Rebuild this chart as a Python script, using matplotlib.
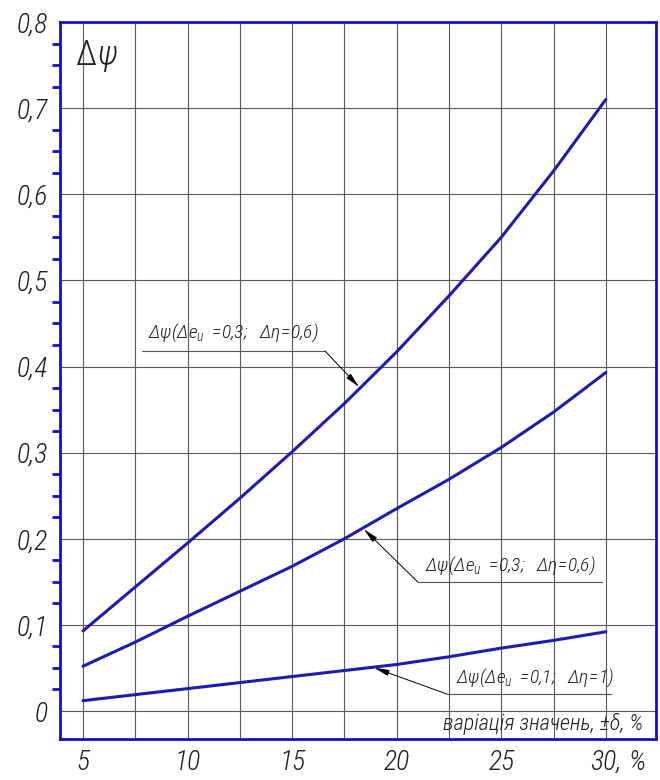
import matplotlib
matplotlib.use("Agg")
import matplotlib.pyplot as plt
from matplotlib import font_manager as fm
import numpy as np

# ---------------- data ----------------
x_vals = [5, 7.5, 10, 12.5, 15, 17.5, 20, 22.5, 25, 27.5, 30]
upper = [0.093, 0.144, 0.195, 0.247, 0.301, 0.357, 0.417, 0.482, 0.550, 0.627, 0.710]
middle = [0.052, 0.080, 0.110, 0.139, 0.168, 0.200, 0.235, 0.269, 0.306, 0.347, 0.393]
lower = [0.012, 0.019, 0.026, 0.033, 0.040, 0.047, 0.054, 0.063, 0.073, 0.082, 0.092]

x_ticks = [5, 10, 15, 20, 25, 30]
x_ticklabels = ["5", "10", "15", "20", "25", "30,"]
y_ticks = [0, 0.1, 0.2, 0.3, 0.4, 0.5, 0.6, 0.7, 0.8]
y_ticklabels = ["0", "0,1", "0,2", "0,3", "0,4", "0,5", "0,6", "0,7", "0,8"]

label_upper = r"$\Delta\psi(\Delta e_u\ =\!0{,}3;\ \ \Delta\eta\!=\!0{,}6)$"
label_middle = r"$\Delta\psi(\Delta e_u\ =\!0{,}3;\ \ \Delta\eta\!=\!0{,}6)$"
label_lower = r"$\Delta\psi(\Delta e_u\ =\!0{,}1;\ \ \Delta\eta\!=\!1)$"
x_axis_title = "варіація значень, ±δ, %"
y_axis_title_a = "Δ"
y_axis_title_b = "ψ"

# ---------------- font choice ----------------
def wnum(w):
    if isinstance(w, (int, float)):
        return w
    return {"ultralight": 200, "light": 300, "normal": 400, "regular": 400,
            "book": 400, "medium": 500}.get(str(w), 400)

def pick_font(style_ok):
    entries = fm.fontManager.ttflist
    prefs = ["Liberation Sans Narrow", "Roboto Condensed", "Open Sans Condensed",
             "Noto Sans", "DejaVu Sans", "Roboto", "Liberation Sans"]
    for name in prefs:
        c = [e for e in entries if e.name == name and style_ok(e.style) and e.stretch != "normal"
             and 250 <= wnum(e.weight) <= 400]
        if c:
            c.sort(key=lambda e: abs(wnum(e.weight) - 300))
            return c[0]
    return None

ent = pick_font(lambda s: s in ("italic", "oblique"))
if ent is not None:
    ITF = fm.FontProperties(fname=ent.fname)
    fam = ent.name
    stretch = ent.stretch
    wt = wnum(ent.weight)
else:
    ITF = fm.FontProperties(family="DejaVu Sans", style="italic")
    fam = "DejaVu Sans"
    stretch = "normal"
    wt = 400

def upright():
    for e in fm.fontManager.ttflist:
        if e.name == fam and e.style == "normal" and e.stretch == stretch and wnum(e.weight) == wt:
            return fm.FontProperties(fname=e.fname)
    return fm.FontProperties(family=fam)

UPF = upright()

plt.rcParams["mathtext.fontset"] = "custom"
pat = f"{fam}:italic:weight={wt}" + (f":stretch={stretch}" if stretch != "normal" else "")
plt.rcParams["mathtext.it"] = pat
plt.rcParams["mathtext.rm"] = pat
plt.rcParams["mathtext.sf"] = pat

# ---------------- figure ----------------
W, H = 660, 780
fig = plt.figure(figsize=(W / 100, H / 100), dpi=100)
ax = fig.add_axes([60 / W, 41 / H, 596 / W, 717 / H])

frame_col = "#1212c8"
line_col = "#1c1cb0"
grid_col = "#5a5a5a"
text_col = "#1e1e1e"

ax.set_xlim(3.9, 32.4)
ax.set_ylim(-0.0325, 0.8)

for series in (upper, middle, lower):
    ax.plot(x_vals, series, color=line_col, lw=2.2, solid_capstyle="round", solid_joinstyle="round")

for s in ax.spines.values():
    s.set_color(frame_col)
    s.set_linewidth(2.0)

ax.set_xticks(x_ticks)
ax.set_xticklabels(x_ticklabels, fontproperties=ITF, fontsize=20, color=text_col)
ax.set_xticks(np.arange(7.5, 30, 5), minor=True)
ax.set_yticks(y_ticks)
ax.set_yticklabels(y_ticklabels, fontproperties=ITF, fontsize=20, color=text_col)
minor_y = [k * 0.025 for k in range(1, 32) if k % 4 != 0]
ax.set_yticks(minor_y, minor=True)

ax.tick_params(axis="x", which="both", length=0, pad=7)
ax.tick_params(axis="y", which="major", length=0, pad=9)
ax.tick_params(axis="y", which="minor", length=6, width=2.0, color=frame_col, direction="out")

ax.grid(True, which="major", axis="y", color=grid_col, lw=0.8)
ax.grid(True, which="both", axis="x", color=grid_col, lw=0.8)
ax.set_axisbelow(True)

ax.annotate("%", xy=(31.5, 0), xycoords=("data", "axes fraction"),
            xytext=(0, -7), textcoords="offset points", ha="center", va="top",
            fontproperties=ITF, fontsize=20, color=text_col)

ax.text(4.6, 0.750, y_axis_title_a, fontproperties=UPF, fontsize=25, ha="left", va="baseline", color=text_col)
ax.text(5.7, 0.750, y_axis_title_b, fontproperties=ITF, fontsize=25, ha="left", va="baseline", color=text_col)

ax.text(22.2, -0.022, x_axis_title, fontproperties=ITF, fontsize=16, ha="left", va="baseline", color=text_col)

lead_col = "#555555"
annots = [
    (label_upper, (8.1, 0.433), (7.82, 16.57, 0.418), 16.57, 18.25, upper),
    (label_middle, (21.35, 0.1626), (21.01, 29.81, 0.1498), 21.01, 18.38, middle),
    (label_lower, (22.85, 0.0325), (22.40, 30.24, 0.0197), 22.40, 18.86, lower),
]
for text, tpos, (ux0, ux1, uy), cx, tipx, series in annots:
    ax.text(tpos[0], tpos[1], text, fontsize=14, ha="left", va="baseline", color=text_col)
    ax.plot([ux0, ux1], [uy, uy], color=lead_col, lw=0.8)
    tipy = float(np.interp(tipx, x_vals, series))
    ax.annotate("", xy=(tipx, tipy), xytext=(cx, uy),
                arrowprops=dict(arrowstyle="-|>,head_length=0.9,head_width=0.18",
                                color="black", lw=0.7, shrinkA=0, shrinkB=1))

fig.savefig("out.png", dpi=100)
